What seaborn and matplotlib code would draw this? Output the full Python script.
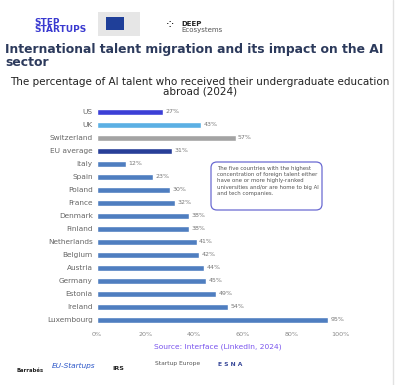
import matplotlib
matplotlib.use("Agg")
import matplotlib.pyplot as plt
from matplotlib.patches import FancyBboxPatch
import pandas as pd
import seaborn as sns

countries = ["US", "UK", "Switzerland", "EU average", "Italy", "Spain", "Poland", "France",
             "Denmark", "Finland", "Netherlands", "Belgium", "Austria", "Germany", "Estonia",
             "Ireland", "Luxembourg"]
shares = [27, 43, 57, 31, 12, 23, 30, 32, 38, 38, 41, 42, 44, 45, 49, 54, 95]
x_ticks = [0, 20, 40, 60, 80, 100]

special = {"US": "#3c3fd6", "UK": "#5cb0e4", "Switzerland": "#a3a3a3", "EU average": "#283f98"}
palette = {c: special.get(c, "#4f7ec0") for c in countries}

df = pd.DataFrame({"country": countries, "share": shares})

sns.set_theme(style="white")
plt.rcParams["font.family"] = ["DejaVu Sans"]

fig = plt.figure(figsize=(4.0, 3.85), dpi=100)
fig.patch.set_facecolor("white")

ax = fig.add_axes([0.2425, 0.152, 0.6075, 0.574])
sns.barplot(data=df, x="share", y="country", hue="country", palette=palette,
            legend=False, width=0.42, ax=ax, saturation=1)
ax.set_xlim(0, 100)
ax.set_xticks(x_ticks)
ax.set_xticklabels([f"{t}%" for t in x_ticks], fontsize=4.6, color="#888888")
ax.tick_params(axis="y", labelsize=5.3, labelcolor="#666666", length=0, pad=3)
ax.tick_params(axis="x", length=0, pad=4)
ax.set_xlabel("")
ax.set_ylabel("")
for s in ax.spines.values():
    s.set_visible(False)
for i, v in enumerate(shares):
    ax.text(v + 1, i, f"{v}%", va="center", ha="left", fontsize=4.5, color="#777777")

# annotation box
box = FancyBboxPatch((211 / 400, 1 - 210 / 385), 111 / 400, 48 / 385,
                     boxstyle="round,pad=0,rounding_size=0.015", transform=fig.transFigure,
                     facecolor="white", edgecolor="#6a6ad2", linewidth=0.9)
fig.patches.append(box)
fig.text(217 / 400, 1 - 166 / 385,
         "The five countries with the highest\nconcentration of foreign talent either\n"
         "have one or more highly-ranked\nuniversities and/or are home to big AI\nand tech companies.",
         fontsize=3.9, color="#555555", va="top", ha="left", linespacing=1.3)

# header
fig.text(0.085, 1 - 26 / 385, "STEP\nSTARTUPS", fontsize=6.5, fontweight="bold", color="#3a3ad0",
         va="center", ha="left", linespacing=0.85)
fig.patches.append(FancyBboxPatch((98 / 400, 1 - 36 / 385), 42 / 400, 24 / 385,
                                  boxstyle="square,pad=0", transform=fig.transFigure,
                                  facecolor="#e6e6e6", edgecolor="none"))
fig.patches.append(FancyBboxPatch((106 / 400, 1 - 30 / 385), 18 / 400, 13 / 385,
                                  boxstyle="square,pad=0", transform=fig.transFigure,
                                  facecolor="#1f3f99", edgecolor="none"))
fig.text(181 / 400, 1 - 24 / 385, "DEEP", fontsize=5, fontweight="bold", color="#222222",
         va="center", ha="left")
fig.text(181 / 400, 1 - 30 / 385, "Ecosystems", fontsize=5, color="#555555", va="center", ha="left")
fig.text(165 / 400, 1 - 26 / 385, "⁘", fontsize=9, color="#111111", va="center", ha="left")

fig.text(0.0125, 1 - 56 / 385, "International talent migration and its impact on the AI\nsector",
         fontsize=8.9, fontweight="bold", color="#2c3a5c", va="center", ha="left", linespacing=1.05)
fig.text(0.5, 1 - 87 / 385, "The percentage of AI talent who received their undergraduate education\nabroad (2024)",
         fontsize=7.5, color="#222222", va="center", ha="center", linespacing=1.0)

fig.text(218 / 400, 1 - 347 / 385, "Source: Interface (LinkedIn, 2024)", fontsize=5.4,
         color="#7a55ee", va="center", ha="center")

# footer logos as text
fig.text(30 / 400, 1 - 370 / 385, "Barrabés", fontsize=3.8, fontweight="bold", color="#222222",
         va="center", ha="center")
fig.text(74 / 400, 1 - 366 / 385, "EU-Startups", fontsize=5.3, style="italic", color="#2a55c8",
         va="center", ha="center")
fig.text(118 / 400, 1 - 368 / 385, "IRS", fontsize=4.5, fontweight="bold", color="#222222",
         va="center", ha="center")
fig.text(155 / 400, 1 - 364 / 385, "Startup Europe", fontsize=4.3, color="#555555",
         va="center", ha="left")
fig.text(230 / 400, 1 - 365 / 385, "E S N A", fontsize=4.3, fontweight="bold", color="#3a4a9a",
         va="center", ha="center")

# right border line
fig.add_artist(plt.Line2D([393 / 400, 393 / 400], [0, 1], transform=fig.transFigure,
                          color="#e2e2e2", linewidth=1))

fig.savefig("out.png", dpi=100)
